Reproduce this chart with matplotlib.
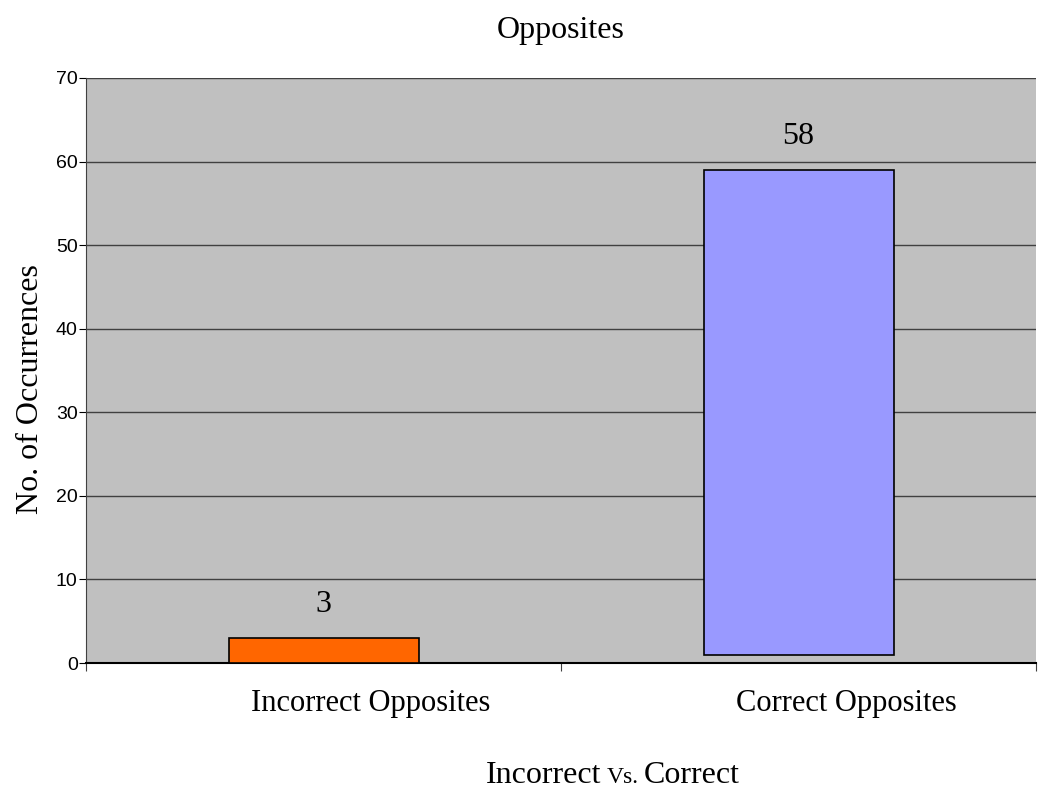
import numpy as np
import matplotlib.pyplot as plt

# data
categories = ['Incorrect Opposites', 'Correct Opposites']
values = [3, 58]
bottoms = [0, 1]
labels = ['3', '58']
colors = ['#FF6600', '#9999FF']
y_ticks = [0, 10, 20, 30, 40, 50, 60, 70]

serif = 'Liberation Serif'
sans = 'Liberation Sans'

fig = plt.figure(figsize=(10.39, 7.92), dpi=100)
ax = fig.add_axes([86/1039, 1 - 663/792, 950/1039, 585/792])
ax.set_facecolor('#C0C0C0')

x = np.arange(len(categories))
ax.bar(x, values, bottom=bottoms, width=0.40, color=colors,
       edgecolor='black', linewidth=1.2, zorder=3)

# value labels above bars
for xi, v, b, lab in zip(x, values, bottoms, labels):
    ax.text(xi, v + b + 4, lab, ha='center', va='center', fontsize=23, family=serif)

ax.set_xlim(-0.5, 1.5)
ax.set_ylim(0, 70)
ax.set_yticks(y_ticks)
ax.set_yticklabels([str(t) for t in y_ticks], fontsize=14, family=sans)
ax.yaxis.grid(True, color='#404040', linewidth=1, zorder=1)
ax.set_axisbelow(True)

# category ticks at the boundaries, names a bit right of the bars
ax.set_xticks([-0.5, 0.5, 1.5])
ax.set_xticklabels(['', '', ''])
ax.tick_params(axis='x', which='major', length=6, color='#404040')
ax.tick_params(axis='y', length=5, pad=1)
for xi, name in zip(x, categories):
    ax.text(xi + 0.1, -4.8, name, ha='center', va='center', fontsize=22, family=serif)

for s in ['top', 'right']:
    ax.spines[s].set_visible(False)
ax.spines['left'].set_color('#404040')
ax.spines['bottom'].set_color('black')
ax.spines['bottom'].set_linewidth(1.5)

fig.text(31/1039, 1 - 389.5/792, 'No. of Occurrences', rotation=90, ha='center', va='center',
         fontsize=23, family=serif)
fig.text(561/1039, 1 - 38/792, 'Opposites', ha='center', va='baseline', fontsize=23, family=serif)

# x label with smaller "Vs."
base = 1 - 783/792
fig.text(486/1039, base, 'Incorrect', fontsize=23, family=serif, ha='left', va='baseline')
fig.text(607/1039, base, 'Vs.', fontsize=17, family=serif, ha='left', va='baseline')
fig.text(644/1039, base, 'Correct', fontsize=23, family=serif, ha='left', va='baseline')

fig.savefig('out.png', dpi=100)
